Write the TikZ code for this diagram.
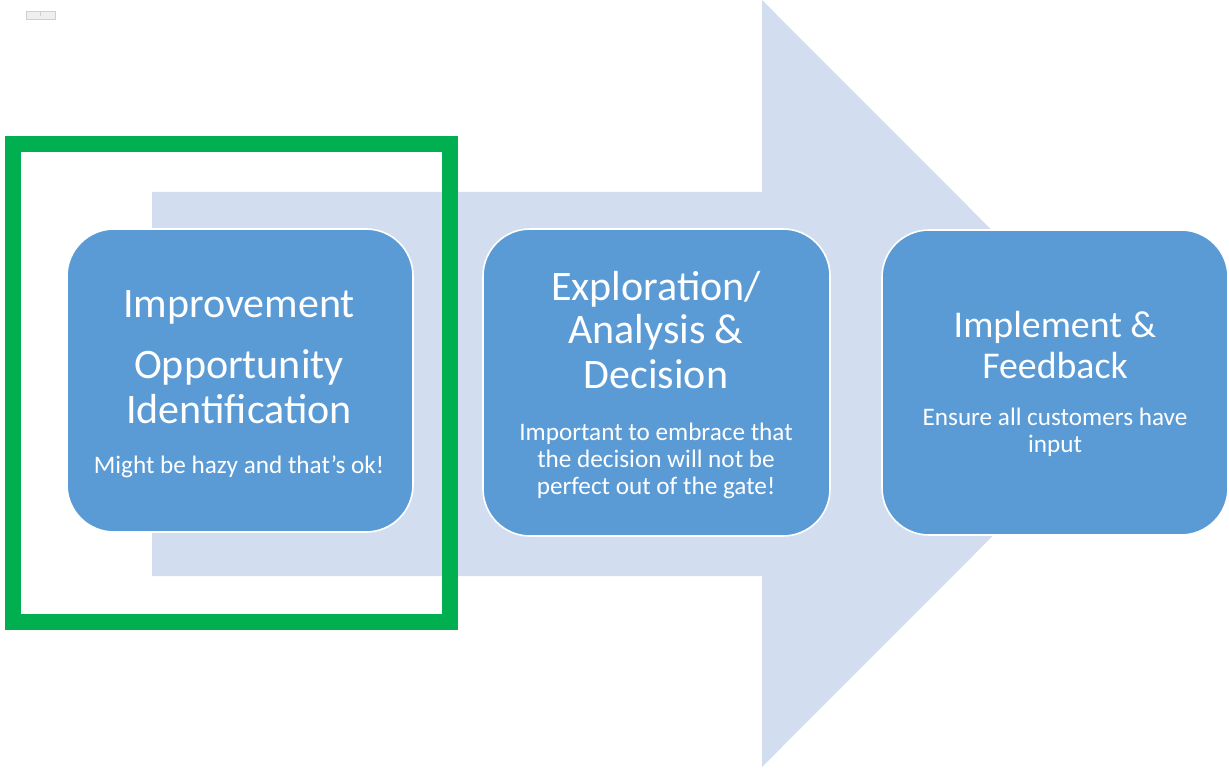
\documentclass[tikz,border=0pt]{standalone}
\usepackage{fontspec}
\setmainfont{Carlito}
\definecolor{boxblue}{HTML}{5B9BD5}
\definecolor{arrowblue}{HTML}{D2DEEF}
\definecolor{hlgreen}{HTML}{00B050}
\definecolor{tabgray}{HTML}{EFEFEF}
\definecolor{tabedge}{HTML}{CFCFCF}
\begin{document}
\begin{tikzpicture}[x=0.5pt,y=-0.5pt,
  stage/.style={draw=white, line width=0.8pt, fill=boxblue, rounded corners=23.5pt, inner sep=0pt},
  titletext/.style={text=white, anchor=base, inner sep=0pt, font=\fontsize{21}{22.5}\selectfont},
  smalltitle/.style={text=white, anchor=base, inner sep=0pt, font=\fontsize{18.9}{20.5}\selectfont},
  subtext/.style={text=white, anchor=base, inner sep=0pt, font=\fontsize{12.6}{13.5}\selectfont},
  highlight/.style={draw=hlgreen, line width=8pt}]
\useasboundingbox (0,0) rectangle (1229,770);
% small tab at top left
\node[fill=tabgray, draw=tabedge, line width=0.4pt, minimum width=14.5pt, minimum height=4pt, inner sep=0pt] (tab) at (40.5,15) {};
\draw[tabedge, line width=0.8pt] (tab.north) ++(0,1) -- ++(0,4);
% big arrow
\fill[arrowblue] (152,192) -- (762,192) -- (762,0) -- (1145,383.5) -- (762,767) -- (762,576) -- (152,576) -- cycle;
% stage boxes
\node[stage, minimum width=173pt, minimum height=151.5pt] (b1) at (240,380.5) {};
\node[stage, minimum width=173.5pt, minimum height=153.5pt] (b2) at (656.5,382.5) {};
\node[stage, minimum width=173pt, minimum height=152.5pt] (b3) at (1055,382.5) {};
% box 1 text
\node[titletext] (t1a) at (239,317) {Improvement};
\node[titletext] (t1b) at (239,378) {Opportunity};
\node[titletext] (t1c) at (239,423) {Identification};
\node[subtext] (s1a) at (239,473) {Might be hazy and that’s ok!};
% box 2 text
\node[titletext] (t2a) at (656,300) {Exploration/};
\node[titletext] (t2b) at (656,343) {Analysis \&};
\node[titletext] (t2c) at (656,388) {Decision};
\node[subtext] (s2a) at (656,440) {Important to embrace that};
\node[subtext] (s2b) at (656,467) {the decision will not be};
\node[subtext] (s2c) at (656,494) {perfect out of the gate!};
% box 3 text
\node[smalltitle] (t3a) at (1055,337) {Implement \&};
\node[smalltitle] (t3b) at (1055,378) {Feedback};
\node[subtext] (s3a) at (1055,425) {Ensure all customers have};
\node[subtext] (s3b) at (1055,452) {input};
% green highlight frame
\node[highlight, minimum width=218.5pt, minimum height=239pt, inner sep=0pt] (frame) at (231.5,383) {};
\end{tikzpicture}
\end{document}
